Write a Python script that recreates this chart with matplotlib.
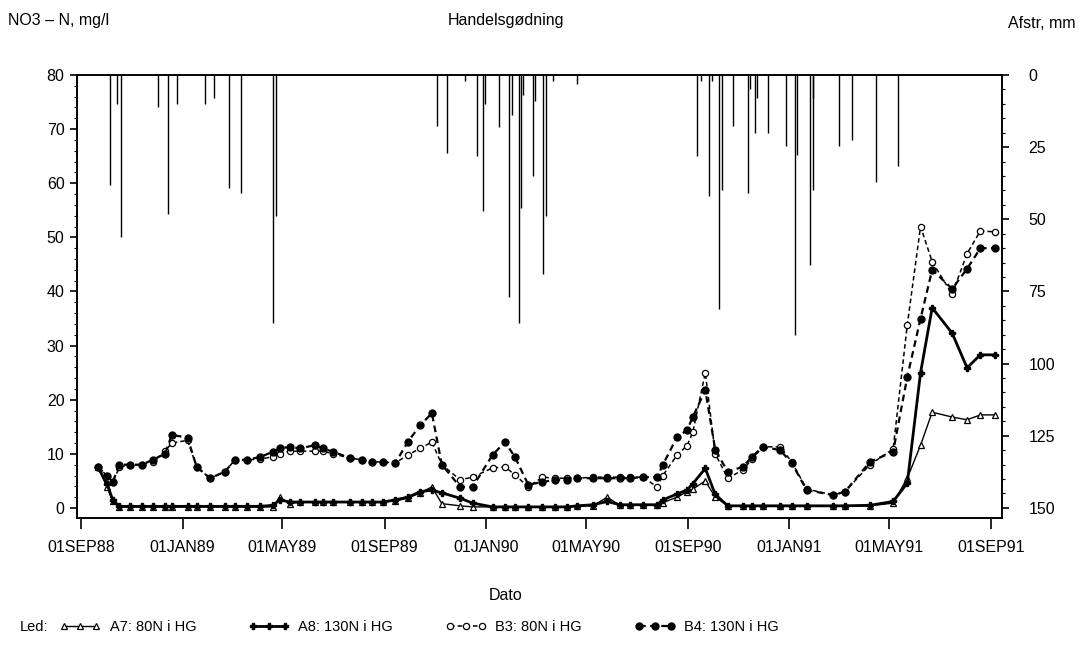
import matplotlib
matplotlib.use("Agg")
import matplotlib.pyplot as plt
import numpy as np
from matplotlib.lines import Line2D
from matplotlib.ticker import MultipleLocator

plt.rcParams['font.family'] = ['Liberation Sans', 'DejaVu Sans']
plt.rcParams['font.size'] = 11.5

# ---------------- data ----------------
sample_dates = [
    "1988-09-21", "1988-10-02", "1988-10-09", "1988-10-17", "1988-10-30", "1988-11-13", "1988-11-26", "1988-12-11", "1988-12-19",
    "1989-01-07", "1989-01-18", "1989-02-03", "1989-02-21", "1989-03-05", "1989-03-19", "1989-04-04", "1989-04-20", "1989-04-28",
    "1989-05-10", "1989-05-22", "1989-06-09", "1989-06-19", "1989-07-01", "1989-07-22", "1989-08-05", "1989-08-17", "1989-08-30",
    "1989-09-14", "1989-09-29", "1989-10-14", "1989-10-28", "1989-11-09", "1989-12-01", "1989-12-16",
    "1990-01-09", "1990-01-24", "1990-02-05", "1990-02-21", "1990-03-10", "1990-03-25", "1990-04-09", "1990-04-21",
    "1990-05-10", "1990-05-27", "1990-06-11", "1990-06-23", "1990-07-09", "1990-07-26", "1990-08-02", "1990-08-19", "1990-08-31",
    "1990-09-07", "1990-09-22", "1990-10-04", "1990-10-19", "1990-11-06", "1990-11-17", "1990-11-30", "1990-12-21",
    "1991-01-04", "1991-01-22", "1991-02-23", "1991-03-09", "1991-04-08", "1991-05-06", "1991-05-23", "1991-06-08", "1991-06-22",
    "1991-07-16", "1991-08-03", "1991-08-19", "1991-09-06"]

a7 = [7.6, 3.9, 1.2, 0.2, 0.2, 0.2, 0.2, 0.2, 0.2,
      0.2, 0.2, 0.2, 0.2, 0.2, 0.2, 0.2, 0.2, 2.0,
      0.8, 1.1, 1.1, 1.1, 1.1, 1.1, 1.1, 1.1, 1.1,
      1.3, 1.8, 2.8, 3.9, 0.8, 0.4, 0.2,
      0.2, 0.2, 0.2, 0.2, 0.2, 0.2, 0.2, 0.3,
      0.4, 2.0, 0.5, 0.5, 0.5, 0.5, 1.0, 2.0, 3.0,
      3.5, 5.0, 2.0, 0.4, 0.3, 0.3, 0.3, 0.3,
      0.3, 0.3, 0.3, 0.3, 0.4, 0.9, 5.5, 11.6, 17.7,
      16.8, 16.3, 17.2, 17.2]

a8 = [7.6, 4.5, 1.5, 0.3, 0.3, 0.3, 0.3, 0.3, 0.3,
      0.3, 0.3, 0.3, 0.3, 0.3, 0.3, 0.3, 0.5, 1.5,
      1.1, 1.1, 1.1, 1.1, 1.1, 1.1, 1.1, 1.1, 1.1,
      1.5, 2.0, 3.0, 3.3, 2.8, 1.8, 0.9,
      0.2, 0.2, 0.2, 0.2, 0.2, 0.2, 0.2, 0.4,
      0.6, 1.2, 0.6, 0.6, 0.6, 0.6, 1.5, 2.6, 3.3,
      4.5, 7.3, 2.5, 0.4, 0.4, 0.4, 0.4, 0.4,
      0.4, 0.4, 0.4, 0.4, 0.5, 1.2, 4.6, 25.0, 37.0,
      32.3, 25.9, 28.3, 28.3]

b3 = [7.6, 6.0, 4.8, 7.5, 8.0, 8.0, 8.5, 10.5, 12.0,
      12.5, 7.6, 5.5, 6.7, 8.9, 8.9, 9.0, 9.5, 10.0,
      10.5, 10.5, 10.5, 10.5, 10.0, 9.2, 8.9, 8.5, 8.5,
      8.3, 9.8, 11.0, 12.2, 8.0, 5.2, 5.7,
      7.4, 7.6, 6.1, 3.9, 5.7, 5.5, 5.5, 5.5,
      5.7, 5.7, 5.7, 5.7, 5.7, 3.9, 6.0, 9.8, 11.5,
      14.0, 25.0, 10.0, 5.5, 7.0, 9.0, 11.3, 11.3,
      8.5, 3.5, 2.4, 3.0, 8.0, 10.9, 33.8, 52.0, 45.5,
      39.5, 47.0, 51.2, 51.0]

b4 = [7.6, 6.0, 4.8, 8.0, 8.0, 8.0, 8.9, 10.0, 13.5,
      13.0, 7.6, 5.5, 6.7, 8.9, 8.9, 9.4, 10.4, 11.0,
      11.3, 11.0, 11.6, 11.0, 10.4, 9.2, 8.9, 8.5, 8.5,
      8.3, 12.2, 15.3, 17.5, 8.0, 3.9, 3.9,
      9.8, 12.2, 9.4, 4.3, 4.8, 5.2, 5.2, 5.5,
      5.5, 5.5, 5.5, 5.5, 5.7, 5.7, 8.0, 13.1, 14.4,
      16.8, 21.8, 10.7, 6.7, 7.6, 9.4, 11.3, 10.7,
      8.3, 3.3, 2.4, 3.0, 8.5, 10.4, 24.2, 35.0, 44.0,
      40.5, 44.2, 48.0, 48.0]

drain_dates = [
    "1988-10-06", "1988-10-14", "1988-10-19", "1988-12-02", "1988-12-14", "1988-12-25",
    "1989-01-28", "1989-02-08", "1989-02-26", "1989-03-12", "1989-04-20", "1989-04-23",
    "1989-11-03", "1989-11-15", "1989-12-07", "1989-12-21", "1989-12-28", "1989-12-31",
    "1990-01-17", "1990-01-29", "1990-02-02", "1990-02-10", "1990-02-12", "1990-02-15",
    "1990-02-27", "1990-03-01", "1990-03-11", "1990-03-14", "1990-03-23", "1990-04-21",
    "1990-09-12", "1990-09-17", "1990-09-26", "1990-09-30", "1990-10-08", "1990-10-12",
    "1990-10-25", "1990-11-12", "1990-11-15", "1990-11-21", "1990-11-23", "1990-12-06",
    "1990-12-28", "1991-01-08", "1991-01-10", "1991-01-26", "1991-01-29", "1991-01-30",
    "1991-03-02", "1991-03-18", "1991-04-15", "1991-05-12"]
drain_mm = [38, 10, 56, 11, 48, 10,
            10, 8, 39, 41, 86, 49,
            17.6, 27, 2, 28, 47, 10,
            18, 77, 14, 86, 46, 7,
            35, 9, 69, 49, 2, 3,
            28, 2, 42, 2, 81, 40,
            17.6, 41, 5, 20, 8, 20,
            24.6, 90, 27.7, 66, 40, 8,
            24.6, 22.5, 37, 31.5]

xtick_dates = ["1988-09-01", "1989-01-01", "1989-05-01", "1989-09-01", "1990-01-01",
               "1990-05-01", "1990-09-01", "1991-01-01", "1991-05-01", "1991-09-01"]
xtick_labels = ["01SEP88", "01JAN89", "01MAY89", "01SEP89", "01JAN90",
                "01MAY90", "01SEP90", "01JAN91", "01MAY91", "01SEP91"]
left_ticks = [0, 10, 20, 30, 40, 50, 60, 70, 80]
right_ticks = [0, 25, 50, 75, 100, 125, 150]

series_labels = ["A7: 80N i HG", "A8: 130N i HG", "B3: 80N i HG", "B4: 130N i HG"]

# ---------------- figure ----------------
W, H = 1079, 652
fig = plt.figure(figsize=(W / 100, H / 100), dpi=100)
ax = fig.add_axes([77 / W, 1 - 518 / H, (1002 - 77) / W, (518 - 75) / H])
ax2 = ax.twinx()

t = np.array(sample_dates, dtype="datetime64[D]")
td = np.array(drain_dates, dtype="datetime64[D]")

# drainage bars hanging from the top (right axis, reversed)
ax2.vlines(td, 0, drain_mm, color="black", lw=1.0)
ax2.set_ylim(153.5, 0)
ax2.set_yticks(right_ticks)
ax2.yaxis.set_minor_locator(MultipleLocator(5))

ax.set_zorder(ax2.get_zorder() + 1)
ax.patch.set_visible(False)

k = "black"
styles = [
    dict(color=k, lw=1.0, marker="^", ms=4.5, mfc="white", mec=k, mew=0.9),
    dict(color=k, lw=2.0, marker="P", ms=5, mfc=k, mec=k),
    dict(color=k, lw=1.1, ls=(0, (3, 2)), marker="o", ms=4.5, mfc="white", mec=k, mew=0.9),
    dict(color=k, lw=1.6, ls=(0, (3, 2)), marker="o", ms=5, mfc=k, mec=k),
]
for vals, st in zip([a7, a8, b3, b4], styles):
    ax.plot(t, vals, **st)

ax.set_ylim(-1.85, 80)
ax.set_yticks(left_ticks)
ax.yaxis.set_minor_locator(MultipleLocator(2))
ax.set_xlim(np.datetime64("1988-08-27"), np.datetime64("1991-09-14"))
ax.set_xticks(np.array(xtick_dates, dtype="datetime64[D]"))
ax.set_xticklabels(xtick_labels)

for a in (ax, ax2):
    for s in a.spines.values():
        s.set_linewidth(1.2)
ax.tick_params(axis="x", direction="out", length=8, width=1.2, pad=8)
ax.tick_params(axis="y", which="major", direction="out", length=5, width=1.2, pad=4)
ax.tick_params(axis="y", which="minor", direction="out", length=2.5, width=0.8)
ax2.tick_params(axis="y", which="major", direction="out", length=5, width=1.2, pad=14)
ax2.tick_params(axis="y", which="minor", direction="out", length=2.5, width=0.8)

fig.text(506 / W, 1 - 596 / H, "Dato", ha="center", va="center")
fig.text(8 / W, 1 - 20 / H, "NO3 – N, mg/l", ha="left", va="center")
fig.text(506 / W, 1 - 20 / H, "Handelsgødning", ha="center", va="center")
fig.text(1075 / W, 1 - 23 / H, "Afstr, mm", ha="right", va="center")

# legend
handles = [Line2D([], [], **st) for st in styles]
fig.text(20 / W, 1 - 627 / H, "Led:", ha="left", va="center", fontsize=10.5)
fig.legend(handles, series_labels, loc="center left", bbox_to_anchor=(60 / W, 1 - 627 / H),
           ncol=4, frameon=False, numpoints=3, handlelength=2.8, columnspacing=3.6,
           handletextpad=0.6, borderaxespad=0, borderpad=0, fontsize=10.5)

fig.savefig("out.png", dpi=100)
